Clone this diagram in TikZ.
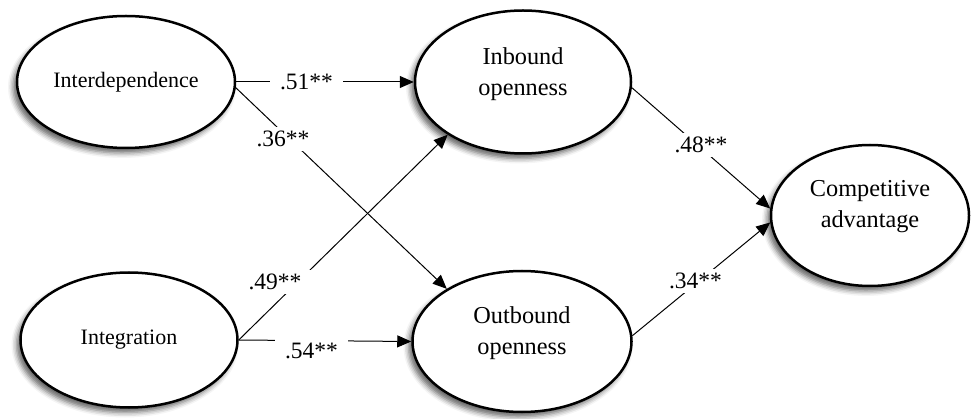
\documentclass[tikz,border=0pt]{standalone}
\usepackage{fontspec}
\setmainfont{Liberation Serif}
\usetikzlibrary{shapes.geometric,arrows.meta,shadows.blur}

\begin{document}
\begin{tikzpicture}[x=1pt,y=-1pt,
  construct/.style={ellipse, draw, line width=2.5pt, fill=white, inner sep=0pt,
    blur shadow={shadow xshift=-4pt, shadow yshift=-5pt,
                 shadow blur radius=5pt, shadow opacity=60}},
  onetext/.style={font=\fontsize{22}{26}\selectfont},
  twotext/.style={font=\fontsize{24.3}{31}\selectfont, align=center},
  link/.style={line width=1pt, -{Triangle[length=14pt,width=12pt]}},
  coef/.style={fill=white, inner xsep=10pt, inner ysep=4pt,
    font=\fontsize{23.5}{28}\selectfont}
]
\useasboundingbox (0,0) rectangle (974,419);

% latent constructs
\node[construct, minimum width=218pt, minimum height=132pt] (inter) at (126,82) {};
\node[construct, minimum width=217pt, minimum height=135pt] (integ) at (129,340) {};
\node[construct, minimum width=216pt, minimum height=143pt] (inb) at (523,82) {};
\node[construct, minimum width=219pt, minimum height=141pt] (outb) at (522,341.5) {};
\node[construct, minimum width=198pt, minimum height=141pt] (comp) at (870,215.5) {};

% construct names
\node[onetext] (intertxt) at (inter.center) {Interdependence};
\node[onetext] (integtxt) at (integ.center) {Integration};
\node[twotext] (inbtxt) at ([yshift=8pt]inb.center) {Inbound\\openness};
\node[twotext] (outbtxt) at ([yshift=8pt]outb.center) {Outbound\\openness};
\node[twotext] (comptxt) at ([yshift=9pt]comp.center) {Competitive\\advantage};

% structural paths
\draw[link] (inter.east) -- (inb.west);
\draw[link] (inter.-3) -- (outb.145.7);
\draw[link] (integ.east) -- (inb.215);
\draw[link] (integ.east) -- (outb.west);
\draw[link] (inb.-3) -- (comp.176);
\draw[link] (outb.3) -- (comp.184);

% path coefficients
\node[coef] (c51) at (306.5,82) {.51**};
\node[coef] (c36) at (283,139) {.36**};
\node[coef] (c49) at (275,282) {.49**};
\node[coef] (c54) at (311.5,351) {.54**};
\node[coef] (c48) at (701,145) {.48**};
\node[coef] (c34) at (695.5,281) {.34**};
\end{tikzpicture}
\end{document}
